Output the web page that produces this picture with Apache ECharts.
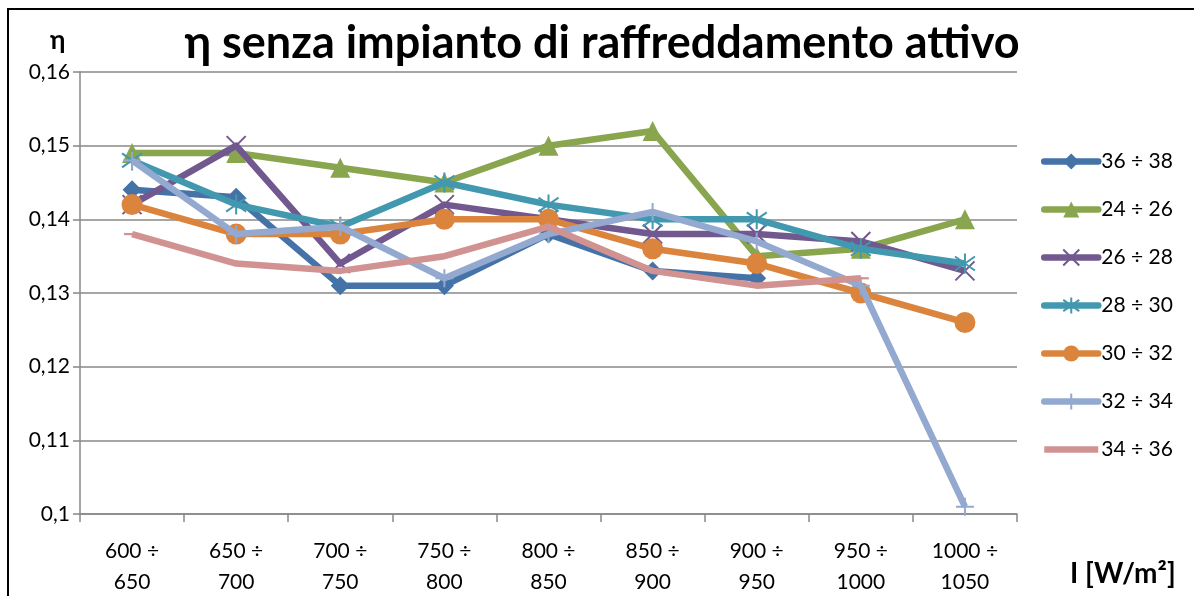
<!DOCTYPE html>
<html>
<head>
<meta charset="utf-8">
<script src="https://cdn.jsdelivr.net/npm/echarts@6/dist/echarts.min.js"></script>
<style>
  html, body { margin: 0; padding: 0; background: #fff; }
  #chart { width: 1194px; height: 596px; }
</style>
</head>
<body>
<div id="chart"></div>
<script>
// Irradiance classes (W/m²)
const categories = ['600 ÷\n650', '650 ÷\n700', '700 ÷\n750', '750 ÷\n800', '800 ÷\n850',
                    '850 ÷\n900', '900 ÷\n950', '950 ÷\n1000', '1000 ÷\n1050'];

// Efficiency per temperature class
const s36_38 = [0.144, 0.143, 0.131, 0.131, 0.138, 0.133, 0.132];
const s24_26 = [0.149, 0.149, 0.147, 0.145, 0.150, 0.152, 0.135, 0.136, 0.140];
const s26_28 = [0.142, 0.150, 0.134, 0.142, 0.140, 0.138, 0.138, 0.137, 0.133];
const s28_30 = [0.148, 0.142, 0.139, 0.145, 0.142, 0.140, 0.140, 0.136, 0.134];
const s30_32 = [0.142, 0.138, 0.138, 0.140, 0.140, 0.136, 0.134, 0.130, 0.126];
const s32_34 = [0.148, 0.138, 0.139, 0.132, 0.138, 0.141, 0.137, 0.131, 0.101];
const s34_36 = [0.138, 0.134, 0.133, 0.135, 0.139, 0.133, 0.131, 0.132];

const seriesNames = ['36 ÷ 38', '24 ÷ 26', '26 ÷ 28', '28 ÷ 30', '30 ÷ 32', '32 ÷ 34', '34 ÷ 36'];
const seriesData = [s36_38, s24_26, s26_28, s28_30, s30_32, s32_34, s34_36];

const yTicks = { min: 0.10, max: 0.16, step: 0.01 };

const colors = ['#4572A7', '#89A54E', '#71588F', '#4198AF', '#DB843D', '#93A9CF', '#D19392'];
const FONT = 'Lato';
const LINE_W = 6.5;

const markers = [
  { symbol: 'diamond', size: 19, border: 0, keep: false },
  { symbol: 'triangle', size: 20, border: 0, keep: false },
  { symbol: 'path://M0,0 L10,10 M10,0 L0,10', size: 19, border: 2, keep: false },
  { symbol: 'path://M5,0 L5,10 M0,1.5 L10,8.5 M0,8.5 L10,1.5', size: 20, border: 2, keep: false },
  { symbol: 'circle', size: 21, border: 0, keep: false },
  { symbol: 'path://M5,0 L5,10 M0,5 L10,5', size: 18, border: 2, keep: false },
  { symbol: 'path://M0,0 L16,0 L16,6 L0,6 Z', size: [16, 6], border: 0, keep: true }
];

const series = seriesNames.map((name, i) => ({
  name: name,
  type: 'line',
  data: seriesData[i],
  symbol: markers[i].symbol,
  symbolSize: markers[i].size,
  symbolKeepAspect: markers[i].keep,
  showAllSymbol: true,
  lineStyle: { width: LINE_W, color: colors[i], join: 'round' },
  itemStyle: {
    color: colors[i],
    borderColor: colors[i],
    borderWidth: markers[i].border
  },
  emphasis: { disabled: true },
  z: 2 + i
}));

// legend entries; the dash-marker series shows as a plain bar
const legendData = seriesNames.map((name, i) => i === 6
  ? { name: name, icon: 'path://M0,0 L54,0 L54,6.5 L0,6.5 Z' }
  : { name: name });

const chart = echarts.init(document.getElementById('chart'), null, { renderer: 'canvas' });
chart.setOption({
  animation: false,
  backgroundColor: '#fff',
  color: colors,
  textStyle: { fontFamily: FONT },
  title: {
    text: 'η senza impianto di raffreddamento attivo',
    left: 597,
    textAlign: 'center',
    top: 16,
    textStyle: { fontFamily: FONT, fontSize: 45, fontWeight: 'bold', color: '#000' }
  },
  grid: { left: 80, right: 177, top: 72, bottom: 82, containLabel: false, outerBoundsMode: 'none' },
  legend: {
    orient: 'vertical',
    left: 1036,
    top: 146,
    itemWidth: 54,
    itemHeight: 20,
    itemGap: 27,
    symbolKeepAspect: true,
    lineStyle: { width: LINE_W, cap: 'round' },
    textStyle: { fontFamily: FONT, fontSize: 21, color: '#000', padding: [0, 0, 0, -2] },
    data: legendData
  },
  xAxis: {
    type: 'category',
    data: categories,
    boundaryGap: true,
    axisLine: { lineStyle: { color: '#888', width: 1.5 } },
    axisTick: { show: true, length: 8, alignWithLabel: false, lineStyle: { color: '#888', width: 1.5 } },
    axisLabel: {
      interval: 0, margin: 22, color: '#000', fontFamily: FONT, fontSize: 21, lineHeight: 31
    },
    splitLine: { show: false }
  },
  yAxis: {
    type: 'value',
    min: yTicks.min,
    max: yTicks.max,
    interval: yTicks.step,
    axisLine: { show: true, lineStyle: { color: '#888', width: 1.5 } },
    axisTick: { show: true, length: 7, lineStyle: { color: '#888', width: 1.5 } },
    axisLabel: {
      margin: 10, color: '#000', fontFamily: FONT, fontSize: 21,
      formatter: v => String(Math.round(v * 100) / 100).replace('.', ',')
    },
    splitLine: { lineStyle: { color: '#888', width: 1.5 } }
  },
  graphic: [
    {
      type: 'rect', silent: true, z: 100,
      shape: { x: 8, y: 9, width: 1400, height: 800 },
      style: { fill: null, stroke: '#000', lineWidth: 2 }
    },
    {
      type: 'text', left: 50, top: 28, z: 100,
      style: { text: 'η', font: 'bold 26px ' + FONT, fill: '#000' }
    },
    {
      type: 'text', left: 1070, top: 560, z: 100,
      style: { text: 'I [W/m²]', font: 'bold 28px ' + FONT, fill: '#000' }
    }
  ],
  series: series
});
</script>
</body>
</html>
